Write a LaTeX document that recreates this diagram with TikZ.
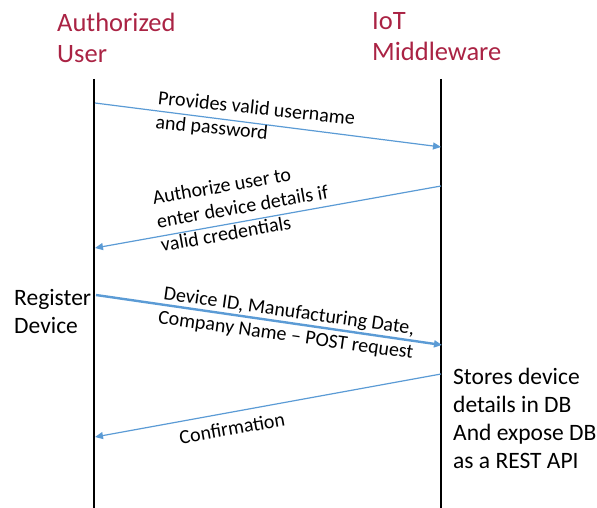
\documentclass[tikz,border=0pt]{standalone}
\usepackage{fontspec}
\setmainfont{Carlito}
\usetikzlibrary{arrows.meta}
\definecolor{titlered}{RGB}{170,35,68}
\definecolor{msgblue}{RGB}{91,155,213}
\tikzset{
  lifeline/.style={line width=2.4pt,black},
  msg/.style={draw=msgblue,line width=1.2pt,-{Triangle[length=8pt,width=7pt]}},
  msgthick/.style={msg,line width=2.4pt},
  titletext/.style={text=titlered,font=\fontsize{26.5}{31}\selectfont,align=left,inner sep=0pt,anchor=base west},
  msgtext/.style={font=\fontsize{20}{24}\selectfont,inner sep=0pt},
  sidetext/.style={font=\fontsize{23.5}{28}\selectfont,align=left,inner sep=0pt,anchor=base west}
}
\begin{document}
\begin{tikzpicture}[x=1pt,y=-1pt]
\useasboundingbox (0,0) rectangle (597,508);
% titles (anchor = baseline of last line)
\node[titletext] (user) at (57,63) {Authorized\\User};
\node[titletext] (iot) at (372,61) {IoT\\Middleware};
% lifelines
\coordinate (utop) at (94,79);
\coordinate (ubot) at (94,508);
\coordinate (mtop) at (441,79);
\coordinate (mbot) at (441,508);
\draw[lifeline] (utop) -- (ubot);
\draw[lifeline] (mtop) -- (mbot);
% message endpoints
\coordinate (u1) at (95,103);
\coordinate (m1) at (441,147);
\coordinate (m2) at (441,186);
\coordinate (u2) at (95,248);
\coordinate (u3) at (96,295);
\coordinate (m3) at (442,345);
\coordinate (m4) at (441,374);
\coordinate (u4) at (95,437);
% messages
\draw[msg] (u1) -- (m1);
\draw[msg] (m2) -- (u2);
\draw[msgthick] (u3) -- (m3);
\draw[msg] (m4) -- (u4);
% labels
\node[msgtext,align=left,anchor=base west,rotate=-6] (l1) at (155,128) {Provides valid username\\and password};
\node[msgtext,align=left,anchor=base west,rotate=10] (l2) at (162,252) {Authorize user to\\enter device details if\\valid credentials};
\node[msgtext,align=center,anchor=base,rotate=-8] (l3) at (285,341) {Device ID, Manufacturing Date,\\Company Name -- POST request};
\node[msgtext,rotate=10] (l4) at (232,428) {Confirmation};
\node[sidetext] (reg) at (14,333) {Register\\Device};
\node[sidetext] (store) at (453,468) {Stores device\\details in DB\\And expose DB\\as a REST API};
\end{tikzpicture}
\end{document}
